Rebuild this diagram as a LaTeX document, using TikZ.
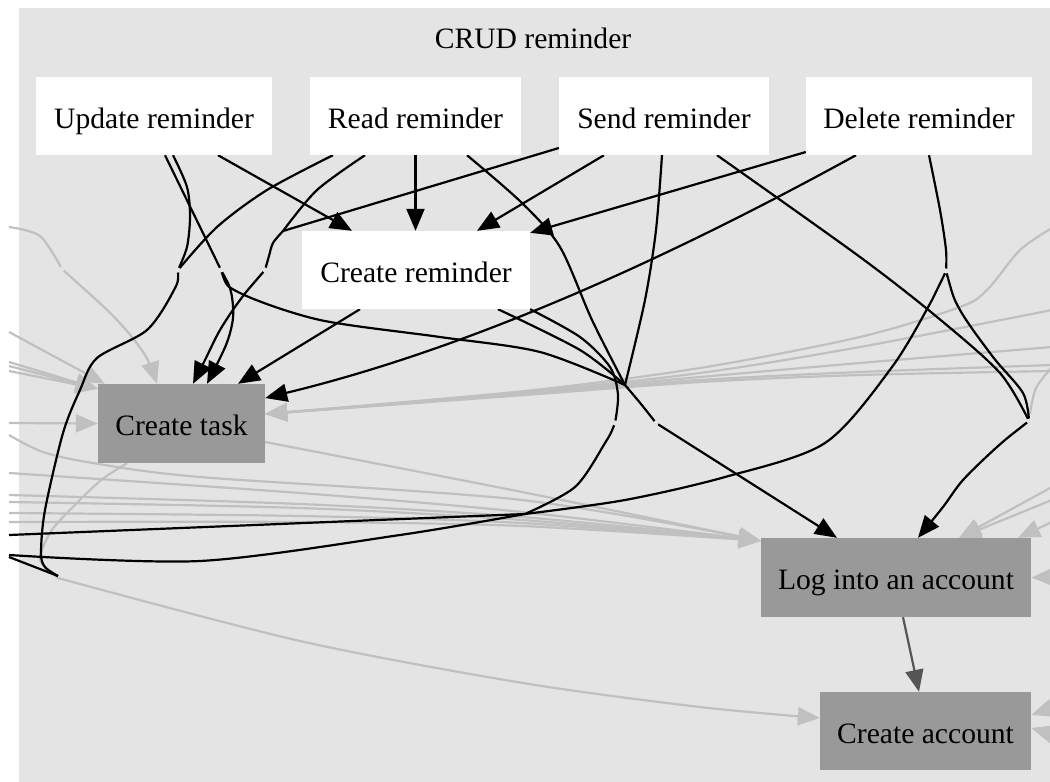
\documentclass[tikz,border=0pt]{standalone}
\usepackage{fontspec}
\setmainfont{Liberation Serif}
\usetikzlibrary{arrows.meta}
\definecolor{clusterbg}{HTML}{E4E4E4}
\definecolor{boxgray}{HTML}{999999}
\definecolor{edgegray}{HTML}{C0C0C0}
\definecolor{edgedark}{HTML}{555555}
\pgfdeclarelayer{back}
\pgfdeclarelayer{edges}
\pgfsetlayers{back,edges,main}

\begin{document}
\begin{tikzpicture}[x=1pt,y=-1pt,
  every node/.style={font=\fontsize{29.6}{34}\selectfont, text height=24pt, text depth=0pt},
  box/.style={rectangle, inner sep=0pt, minimum height=78pt},
  whitebox/.style={box, fill=white},
  graybox/.style={box, fill=boxgray},
  blk/.style={draw=black, line width=2.2pt},
  gry/.style={draw=edgegray, line width=2.2pt},
  dark/.style={draw=edgedark, line width=2.2pt},
  arr/.style={-{Triangle[length=22pt,width=18pt]}},
  gapin/.style={shorten <=2.5pt},
  gapout/.style={shorten >=2.5pt},
]
\useasboundingbox (0,0) rectangle (1050,782);

% cluster
\begin{pgfonlayer}{back}
  \fill[clusterbg] (19,8) rectangle (1060,790);
\end{pgfonlayer}
\node (title) at (533,36) {CRUD reminder};

% nodes
\node[whitebox, minimum width=236pt] (upd)  at (154,116)   {Update reminder};
\node[whitebox, minimum width=211pt] (read) at (415.5,116) {Read reminder};
\node[whitebox, minimum width=210pt] (send) at (664,116)   {Send reminder};
\node[whitebox, minimum width=226pt] (del)  at (919,116)   {Delete reminder};
\node[whitebox, minimum width=228pt] (crem) at (416,270)   {Create reminder};
\node[graybox, minimum width=167pt, minimum height=79pt] (ctask) at (181.5,423.5) {Create task};
\node[graybox, minimum width=270pt, minimum height=79pt] (login) at (896,577.5)   {Log into an account};
\node[graybox, minimum width=211pt] (cacc) at (925.5,731) {Create account};

% ports on the boxes
\coordinate (u1) at ([xshift=11pt]upd.south);
\coordinate (u2) at ([xshift=19pt]upd.south);
\coordinate (u3) at ([xshift=64pt]upd.south);
\coordinate (r1) at ([xshift=-82.5pt]read.south);
\coordinate (r2) at ([xshift=-50.5pt]read.south);
\coordinate (r3) at (read.south);
\coordinate (r4) at ([xshift=51.5pt]read.south);
\coordinate (s0) at ([yshift=-32pt]send.west);
\coordinate (s1) at ([xshift=-60pt]send.south);
\coordinate (s2) at ([xshift=-2pt]send.south);
\coordinate (s3) at ([xshift=53pt]send.south);
\coordinate (d0) at ([yshift=-36pt]del.west);
\coordinate (d1) at ([xshift=-63pt]del.south);
\coordinate (d2) at ([xshift=10pt]del.south);
\coordinate (cr1) at ([xshift=-64pt]crem.north);
\coordinate (cr2) at (read.south |- crem.north);
\coordinate (cr3) at ([xshift=61pt]crem.north);
\coordinate (cr4) at ([yshift=-2pt]crem.north east);
\coordinate (cr5) at ([xshift=-56pt]crem.south);
\coordinate (cr6) at ([xshift=82pt]crem.south);
\coordinate (cr7) at (crem.south east);
\coordinate (ct1) at ([xshift=-24.5pt]ctask.north);
\coordinate (ct2) at ([xshift=11.5pt]ctask.north);
\coordinate (ct3) at ([xshift=25.5pt]ctask.north);
\coordinate (ct4) at ([xshift=56.5pt]ctask.north);
\coordinate (ct5) at ([yshift=25.5pt]ctask.east);
\coordinate (ct6) at ([yshift=9.5pt]ctask.east);
\coordinate (ct7) at ([xshift=7pt]ctask.north west);
\coordinate (ct8) at ([yshift=-5pt]ctask.north west);
\coordinate (ct9) at (ctask.west);
\coordinate (ct10) at ([yshift=-18.5pt]ctask.east);
\coordinate (ct11) at ([xshift=-54.5pt]ctask.south);
\coordinate (li1) at ([xshift=-59pt]login.north);
\coordinate (li2) at ([xshift=22pt]login.north);
\coordinate (li3) at ([yshift=-3pt]login.north west);
\coordinate (li4) at ([xshift=63pt]login.north);
\coordinate (li5) at ([xshift=122pt]login.north);
\coordinate (li6) at (login.east);
\coordinate (li7) at ([xshift=7pt]login.south);
\coordinate (ca1) at ([xshift=-6.5pt]cacc.north);
\coordinate (ca2) at ([yshift=13pt]cacc.west);
\coordinate (ca3) at ([yshift=16pt]cacc.east);
\coordinate (ca4) at ([yshift=3pt]cacc.east);

% routing points between ranks
\coordinate (jA) at (221,270);
\coordinate (jB) at (178,270);
\coordinate (mC) at (283,231);
\coordinate (jC) at (265,270);
\coordinate (jD) at (946,271);
\coordinate (xE) at (625,385);
\coordinate (jF) at (615,423);
\coordinate (jG) at (656,423);
\coordinate (jH) at (1029,421);
\coordinate (mI) at (525,514);
\coordinate (jJ) at (58,576);
\coordinate (jJg) at (58,578);
\coordinate (jK) at (62,269);

% edges leaving the cluster
\coordinate (eL1) at (9,535);
\coordinate (eL2) at (9,555);
\coordinate (eL3) at (9,557);
\coordinate (gL1) at (9,227);
\coordinate (gL2) at (9,332);
\coordinate (gL3) at (9,362);
\coordinate (gL4) at (9,366);
\coordinate (gL5) at (9,371);
\coordinate (gL6) at (9,423);
\coordinate (gL7) at (9,435);
\coordinate (gL8) at (9,473);
\coordinate (gL9) at (9,495);
\coordinate (gL10) at (9,502);
\coordinate (gL11) at (9,513);
\coordinate (gL12) at (9,522);
\coordinate (gR1) at (1052,228);
\coordinate (gR2) at (1052,310);
\coordinate (gR3) at (1052,347);
\coordinate (gR4) at (1052,365);
\coordinate (gR5) at (1052,371);
\coordinate (gR6) at (1052,367);
\coordinate (gE6) at (1030,414);
\coordinate (gR7) at (1052,487);
\coordinate (gR8) at (1052,500);
\coordinate (gR9) at (1052,522);
\coordinate (gR10) at (1052,577);
\coordinate (gR11) at (1052,708);
\coordinate (gR12) at (1052,734);

\begin{pgfonlayer}{edges}
% ---- light edges from outside the cluster ----
\draw[gry, gapout] plot[smooth] coordinates {(gL1) (40,236) (jK)};
\draw[gry, gapin, arr] plot[smooth] coordinates {(jK) (117,320) (145,355) (ct1)};
\draw[gry, arr] (gL2) -- (ct7);
\draw[gry, arr] (gL3) -- (ct8);
\draw[gry, arr] (gL4) -- (ct8);
\draw[gry, arr] (gL5) -- (ct8);
\draw[gry, arr] (gL6) -- (ct9);

\draw[gry, arr] plot[smooth] coordinates {(gL7) (43,452) (93,463) (200,477) (522,500) (li3)};
\draw[gry, arr] plot[smooth] coordinates {(gL8) (300,493) (522,512) (li3)};
\draw[gry, arr] plot[smooth] coordinates {(gL9) (300,504) (522,517) (li3)};
\draw[gry, arr] plot[smooth] coordinates {(gL10) (300,508) (522,520) (li3)};
\draw[gry, arr] plot[smooth] coordinates {(gL11) (300,516) (522,523) (li3)};
\draw[gry, arr] plot[smooth] coordinates {(gL12) (300,522) (522,526) (li3)};
\draw[gry, arr] plot[smooth] coordinates {(ct10) (522,492) (li3)};

\draw[gry] plot[smooth] coordinates {(ct11) (100,481) (67,513) (50,533) (40,560) (jJg)};
\draw[gry, arr] plot[smooth] coordinates {(jJg) (300,641) (523,683) (700,707) (ca2)};

\draw[gry, arr] plot[smooth] coordinates {(gR1) (1020,250) (987,290) (960,307) (860,337) (700,368) (525,391) (ct6)};
\draw[gry, arr] plot[smooth] coordinates {(gR2) (860,347) (700,373) (525,392) (ct6)};
\draw[gry, arr] plot[smooth] coordinates {(gR3) (860,363) (700,377) (525,393) (ct6)};
\draw[gry, arr] plot[smooth] coordinates {(gR4) (860,372) (700,380) (525,394) (ct6)};
\draw[gry, arr] plot[smooth] coordinates {(gR5) (860,375) (700,382) (525,395) (ct6)};
\draw[gry] plot[smooth] coordinates {(gR6) (1037,386) (1032,402) (gE6)};

\draw[gry, arr] (gR7) -- (li4);
\draw[gry, arr] (gR8) -- (li4);
\draw[gry, arr] (gR9) -- (li5);
\draw[gry, arr] (gR10) -- (li6);
\draw[gry, arr] (gR11) -- (ca3);
\draw[gry, arr] (gR12) -- (ca4);

% ---- edges of the reminder cluster ----
\draw[blk, arr] (u3) -- (cr1);
\draw[blk, arr] (r3) -- (cr2);
\draw[blk, arr] (s1) -- (cr3);
\draw[blk, arr] (d0) -- (cr4);
\draw[blk, arr] (cr5) -- (ct4);
\draw[blk, arr] (d1) .. controls (656,265) and (463,350) .. (ct5);

\draw[blk, gapout] (u1) -- (jA);
\draw[blk, gapin, arr] plot[smooth] coordinates {(jA) (231,292) (233,318) (226,345) (ct3)};
\draw[blk, gapin] plot[smooth] coordinates {(jA) (240,293) (320,320) (440,337) (540,352) (xE)};

\draw[blk, gapout] plot[smooth] coordinates {(u2) (187,187) (190,217) (187,247) (jB)};
\draw[blk, gapout] plot[smooth] coordinates {(r1) (267,190) (217,227) (jB)};
\draw[blk, gapin] plot[smooth] coordinates {(jB) (174,290) (147,330) (97,358) (80,390) (63,433) (45,510) (41,553) (45,567) (jJ)};
\draw[blk] (jJ) -- (eL3);

\draw[blk] plot[smooth] coordinates {(r2) (317,190) (mC)};
\draw[blk] (s0) -- (mC);
\draw[blk, gapout] plot[smooth] coordinates {(mC) (273,243) (269,256) (jC)};
\draw[blk, gapin, arr] plot[smooth] coordinates {(jC) (240,300) (220,330) (205,360) (ct2)};

\draw[blk] plot[smooth] coordinates {(r4) (522,203) (560,247) (592,320) (xE)};
\draw[blk] plot[smooth] coordinates {(s2) (656,230) (645,300) (xE)};
\draw[blk] plot[smooth] coordinates {(cr6) (580,350) (xE)};
\draw[blk, gapout] plot[smooth] coordinates {(cr7) (580,337) (610,367) (618,395) (jF)};
\draw[blk, gapout] plot[smooth] coordinates {(xE) (641,404) (jG)};
\draw[blk, gapin, arr] (jG) -- (li1);
\draw[blk, gapin] plot[smooth] coordinates {(jF) (605,443) (575,487) (mI)};
\draw[blk] (mI) -- (eL1);

\draw[blk, gapout] plot[smooth] coordinates {(d2) (940,210) (946,250) (jD)};
\draw[blk, gapin] plot[smooth] coordinates {(jD) (932,300) (892,367) (825,443) (725,477) (625,500) (mI)};
\draw[blk] plot[smooth] coordinates {(mI) (400,535) (200,561) (eL2)};
\draw[blk, gapin, gapout] plot[smooth] coordinates {(jD) (960,310) (993,357) (1023,393) (jH)};
\draw[blk, gapout] plot[smooth] coordinates {(s3) (860,257) (937,317) (1000,373) (jH)};
\draw[blk, gapin, arr] plot[smooth] coordinates {(jH) (997,447) (963,480) (943,507) (li2)};

\draw[dark, arr] (li7) -- (ca1);
\end{pgfonlayer}
\end{tikzpicture}
\end{document}
